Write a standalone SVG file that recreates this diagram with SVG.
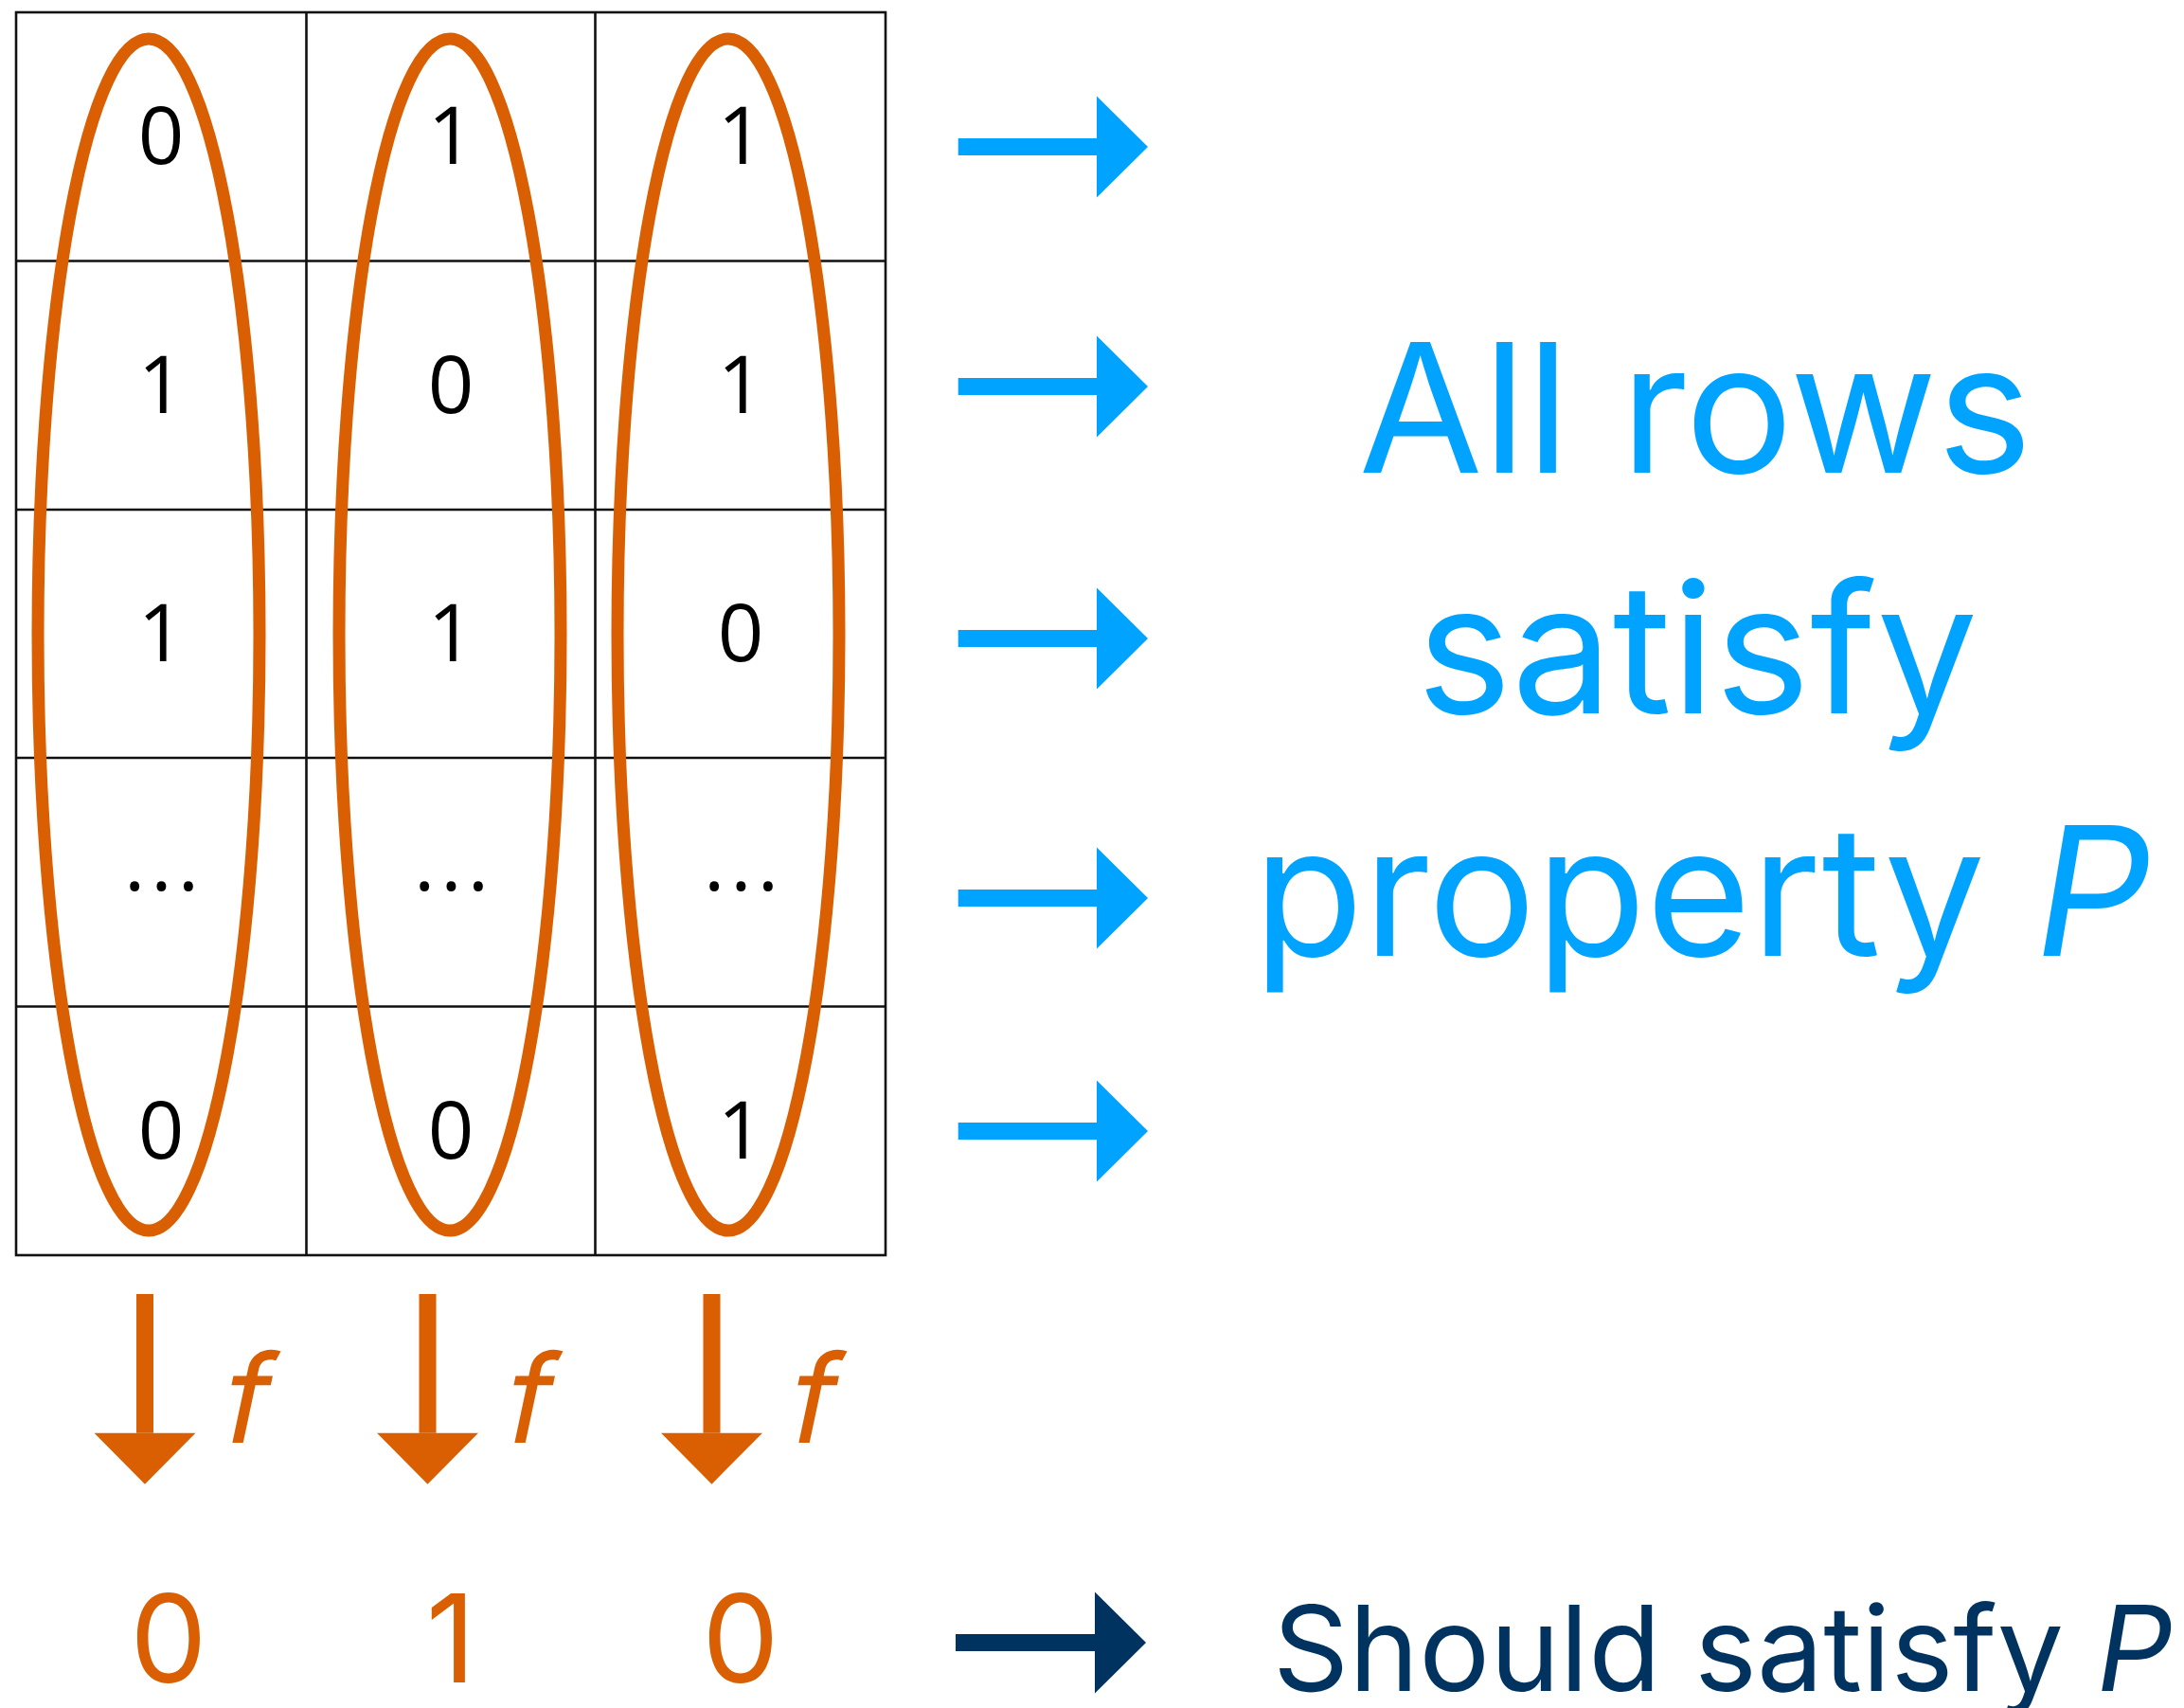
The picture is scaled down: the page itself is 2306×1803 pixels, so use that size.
<svg xmlns="http://www.w3.org/2000/svg" width="2306" height="1803" viewBox="0 0 2306 1803">
<style>
.grid{fill:none;stroke:#111;stroke-width:2.6}
.cell{font-family:"Open Sans","Liberation Sans",sans-serif;font-size:85px;fill:#000;text-anchor:middle}
.dots{font-family:"Open Sans","Liberation Sans",sans-serif;font-size:85px;fill:#000;letter-spacing:6px}
.ell{fill:none;stroke:#D95F02;stroke-width:13}
.blue{fill:#00A3FF;font-family:Inter,"Liberation Sans",sans-serif;font-size:190px;text-anchor:middle}
.navy{fill:#00335F;font-family:Inter,"Liberation Sans",sans-serif;font-size:125px;text-anchor:middle}
.orange{fill:#D95F02;font-family:Inter,"Liberation Sans",sans-serif;font-size:129px;text-anchor:middle}
.it{font-style:italic}
.sb{stroke:#00A3FF;stroke-width:18;fill:none;marker-end:url(#hb)}
.sn{stroke:#00335F;stroke-width:18;fill:none;marker-end:url(#hn)}
.so{stroke:#D95F02;stroke-width:18;fill:none;marker-end:url(#ho)}
</style>
<defs>
<marker id="hb" markerUnits="userSpaceOnUse" markerWidth="54" markerHeight="107" refX="0" refY="53.5" orient="auto" overflow="visible"><path d="M0,0 L54,53.5 L0,107 Z" fill="#00A3FF"/></marker>
<marker id="hn" markerUnits="userSpaceOnUse" markerWidth="54" markerHeight="107" refX="0" refY="53.5" orient="auto" overflow="visible"><path d="M0,0 L54,53.5 L0,107 Z" fill="#00335F"/></marker>
<marker id="ho" markerUnits="userSpaceOnUse" markerWidth="54" markerHeight="107" refX="0" refY="53.5" orient="auto" overflow="visible"><path d="M0,0 L54,53.5 L0,107 Z" fill="#D95F02"/></marker>
</defs>
<rect width="2306" height="1803" fill="#fff"/>
<g id="grid">
<rect class="grid" x="17" y="13" width="918" height="1312"/>
<path class="grid" d="M323.5,13V1325M628.5,13V1325M17,275.5H935M17,538H935M17,800H935M17,1062.5H935"/>
</g>
<g id="cells">
<text class="cell" x="170" y="173">0</text><text class="cell" x="476" y="173">1</text><text class="cell" x="782" y="173">1</text>
<text class="cell" x="170" y="436">1</text><text class="cell" x="476" y="436">0</text><text class="cell" x="782" y="436">1</text>
<text class="cell" x="170" y="698">1</text><text class="cell" x="476" y="698">1</text><text class="cell" x="782" y="698">0</text>
<text class="dots" x="131" y="940">...</text><text class="dots" x="437" y="940">...</text><text class="dots" x="743" y="940">...</text>
<text class="cell" x="170" y="1223">0</text><text class="cell" x="476" y="1223">0</text><text class="cell" x="782" y="1223">1</text>
</g>
<g id="column1"><ellipse class="ell" cx="157" cy="670" rx="117" ry="629"/></g>
<g id="column2"><ellipse class="ell" cx="475" cy="670" rx="117" ry="629"/></g>
<g id="column3"><ellipse class="ell" cx="769" cy="670" rx="117" ry="629"/></g>
<g id="connectors">
<line class="sb" x1="1011.7" y1="155" x2="1158" y2="155"/>
<line class="sb" x1="1011.7" y1="408" x2="1158" y2="408"/>
<line class="sb" x1="1011.7" y1="674" x2="1158" y2="674"/>
<line class="sb" x1="1011.7" y1="948" x2="1158" y2="948"/>
<line class="sb" x1="1011.7" y1="1194" x2="1158" y2="1194"/>
<line class="sn" x1="1009" y1="1734" x2="1156" y2="1734"/>
<line class="so" x1="153" y1="1366" x2="153" y2="1512.7"/>
<line class="so" x1="451.5" y1="1366" x2="451.5" y2="1512.7"/>
<line class="so" x1="751.5" y1="1366" x2="751.5" y2="1512.7"/>
<text class="orange" transform="translate(254,1523) skewX(-12)">f</text>
<text class="orange" transform="translate(552,1523) skewX(-12)">f</text>
<text class="orange" transform="translate(852,1523) skewX(-12)">f</text>
</g>
<g id="outputs">
<text class="orange" x="178" y="1776">0</text>
<text class="orange" x="476" y="1776">1</text>
<text class="orange" x="782" y="1776">0</text>
</g>
<g id="property">
<text class="blue" x="1790" y="498.6">All rows</text>
<text class="blue" x="1792" y="753">satisfy</text>
<text class="blue" x="1797" y="1009">property <tspan class="it">P</tspan></text>
</g>
<g id="should">
<text class="navy" x="1819" y="1785.4">Should satisfy <tspan class="it">P</tspan></text>
</g>
</svg>
